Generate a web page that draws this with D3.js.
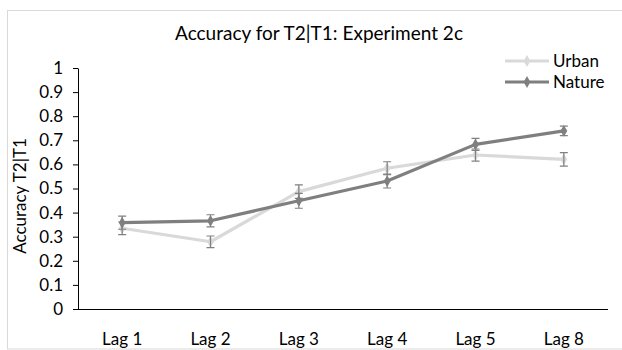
<!DOCTYPE html>
<html><head><meta charset="utf-8">
<script src="https://cdn.jsdelivr.net/npm/d3@7"></script>
<style>body{margin:0;background:#fff}svg{display:block}</style>
</head><body><svg id="c" width="622" height="350"></svg>
<script>
const categories = ["Lag 1","Lag 2","Lag 3","Lag 4","Lag 5","Lag 8"];
const urban = [0.335,0.279,0.487,0.584,0.639,0.621];
const urbanErr = [0.026,0.024,0.028,0.027,0.025,0.028];
const nature = [0.358,0.366,0.449,0.531,0.683,0.739];
const natureErr = [0.027,0.025,0.031,0.029,0.025,0.02];
const yTicks = [0,0.1,0.2,0.3,0.4,0.5,0.6,0.7,0.8,0.9,1];
const seriesNames = ["Urban","Nature"];

const font = "Lato, 'Open Sans', sans-serif";
const fs = 17;
const svg = d3.select("#c");
svg.append("rect").attr("x",7.5).attr("y",10.5).attr("width",620).attr("height",338.5)
  .attr("fill","#fff").attr("stroke","#d9d9d9");

const pL=78, pR=608, pT=68, pB=309;
const x = d3.scaleBand().domain(categories).range([pL,pR]);
const y = d3.scaleLinear().domain([0,1]).range([pB,pT]);

svg.append("text").attr("x",319).attr("y",40).attr("text-anchor","middle")
  .attr("font-family",font).attr("font-size",19).attr("fill","#000")
  .text("Accuracy for T2|T1: Experiment 2c");

// y axis
const ya = svg.append("g").attr("transform",`translate(${pL},0)`)
  .call(d3.axisLeft(y).tickValues(yTicks).tickFormat(d=>String(+d.toFixed(1))).tickSize(5).tickSizeOuter(0));
ya.select(".domain").attr("stroke","#000");
ya.selectAll(".tick line").attr("stroke","#000");
ya.selectAll(".tick text").attr("font-family",font).attr("font-size",fs).attr("fill","#000").attr("x",-15);

// x axis
const xa = svg.append("g").attr("transform",`translate(0,${pB})`)
  .call(d3.axisBottom(x).tickSize(0).tickSizeOuter(0));
xa.select(".domain").attr("stroke","#000").attr("d",`M${pL-5},0.5H${pR}`);
xa.selectAll(".tick text").attr("font-family",font).attr("font-size",fs).attr("fill","#000").attr("dy",0).attr("y",36);

svg.append("text").attr("transform",`translate(26,196) rotate(-90)`)
  .attr("text-anchor","middle").attr("font-family",font).attr("font-size",fs).attr("fill","#000")
  .text("Accuracy T2|T1");

const series = [
  {name:seriesNames[0], vals:urban, err:urbanErr, color:"#d9d9d9"},
  {name:seriesNames[1], vals:nature, err:natureErr, color:"#7f7f7f"}
];
const cx = c => x(c)+x.bandwidth()/2;
const line = d3.line().x((d,i)=>cx(categories[i])).y(d=>y(d));
const diamond = d3.symbol().type(d3.symbolDiamond).size(40);

series.forEach(s=>{
  const g = svg.append("g");
  g.append("path").attr("d",line(s.vals)).attr("fill","none").attr("stroke",s.color).attr("stroke-width",3.2).attr("stroke-linejoin","round");
  g.selectAll("path.m").data(s.vals).enter().append("path").attr("class","m")
    .attr("d",diamond).attr("transform",(d,i)=>`translate(${cx(categories[i])},${y(d)})`).attr("fill",s.color);
  s.vals.forEach((v,i)=>{
    const xc = cx(categories[i]), e = s.err[i];
    g.append("path").attr("d",`M${xc},${y(v+e)}V${y(v-e)}M${xc-4},${y(v+e)}H${xc+4}M${xc-4},${y(v-e)}H${xc+4}`)
      .attr("stroke","#808080").attr("stroke-width",1.2).attr("fill","none");
  });
});

// legend
const lg = svg.append("g");
series.forEach((s,i)=>{
  const ly = 61 + i*21;
  lg.append("line").attr("x1",505).attr("x2",549).attr("y1",ly).attr("y2",ly).attr("stroke",s.color).attr("stroke-width",3.2);
  lg.append("path").attr("d",diamond).attr("transform",`translate(527,${ly})`).attr("fill",s.color);
  lg.append("text").attr("x",553).attr("y",ly+6).attr("font-family",font).attr("font-size",fs).attr("fill","#000").text(s.name);
});
</script></body></html>
